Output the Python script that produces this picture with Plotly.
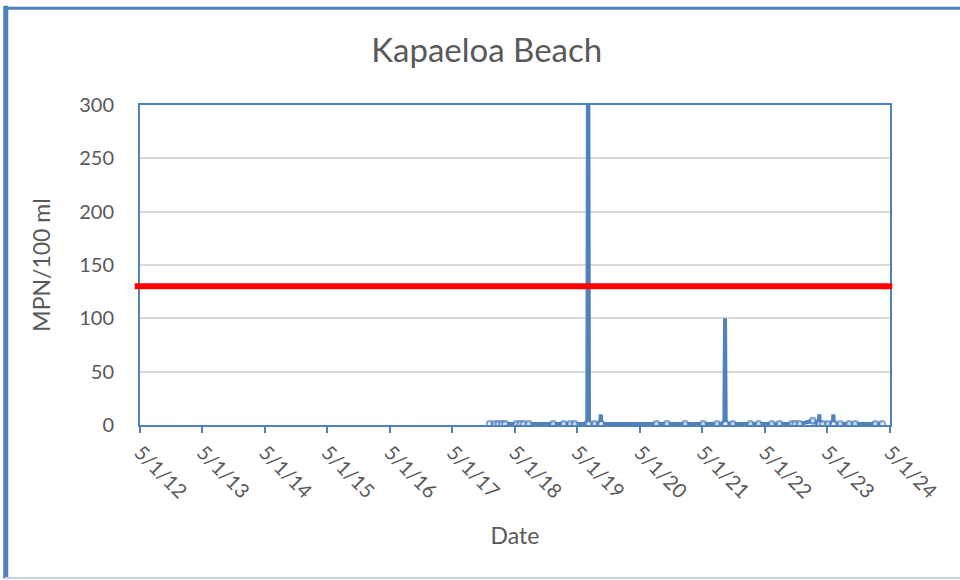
import plotly.graph_objects as go

title = "Kapaeloa Beach"
x_title = "Date"
y_title = "MPN/100 ml"

dates = [
    "2017-12-05", "2018-01-05", "2018-01-25", "2018-02-15", "2018-03-05",
    "2018-05-10", "2018-06-01", "2018-06-20", "2018-07-20",
    "2018-12-10", "2019-02-10", "2019-03-20", "2019-04-15",
    "2019-06-28", "2019-07-03", "2019-07-08", "2019-08-10",
    "2019-09-12", "2019-09-15", "2019-09-18",
    "2020-08-05", "2020-10-05", "2021-01-20",
    "2021-05-05", "2021-07-25", "2021-09-06", "2021-09-10", "2021-09-14", "2021-10-25",
    "2022-02-05", "2022-03-25", "2022-06-10", "2022-07-25",
    "2022-10-05", "2022-10-25", "2022-11-20",
    "2023-02-05", "2023-03-12", "2023-03-15", "2023-03-18", "2023-04-05", "2023-05-05",
    "2023-06-02", "2023-06-05", "2023-06-08", "2023-07-15", "2023-09-05", "2023-10-10",
    "2024-02-05", "2024-03-15",
]
values = [
    1, 1, 1, 1, 1,
    1, 1, 1, 1,
    1, 1, 1, 1,
    1, 410, 1, 1,
    1, 10, 1,
    1, 1, 1,
    1, 1, 1, 100, 1, 1,
    1, 1, 1, 1,
    1, 1, 1,
    4, 1, 10, 1, 1, 1,
    1, 10, 1, 1, 1, 1,
    1, 1,
]

threshold = 130
tick_dates = ["2012-05-01", "2013-05-01", "2014-05-01", "2015-05-01", "2016-05-01",
              "2017-05-01", "2018-05-01", "2019-05-01", "2020-05-01", "2021-05-01",
              "2022-05-01", "2023-05-01", "2024-05-01"]
tick_labels = ["5/1/12", "5/1/13", "5/1/14", "5/1/15", "5/1/16", "5/1/17", "5/1/18",
               "5/1/19", "5/1/20", "5/1/21", "5/1/22", "5/1/23", "5/1/24"]
y_ticks = [0, 50, 100, 150, 200, 250, 300]

blue = "#4F81BD"
txt = "#595959"
font = "Lato, 'Open Sans', sans-serif"

# only the low samples show circles; the peaks appear as plain rounded spikes
marker_sizes = [6 if v < 5 else 0 for v in values]

fig = go.Figure()
fig.add_trace(go.Scatter(
    x=dates, y=values, mode="lines+markers",
    line=dict(color=blue, width=4),
    marker=dict(symbol="circle", size=marker_sizes, color="white",
                line=dict(color=blue, width=2)),
    cliponaxis=True, showlegend=False, hoverinfo="x+y",
))

# threshold line (extends slightly beyond plot area)
fig.add_shape(type="line", xref="paper", yref="y", x0=-0.007, x1=1.003,
              y0=threshold, y1=threshold, line=dict(color="#FF0000", width=6))

# chart frame
fig.add_shape(type="line", xref="paper", yref="paper", x0=-0.179, x1=-0.179, y0=-0.48, y1=1.31,
              line=dict(color=blue, width=5))
fig.add_shape(type="line", xref="paper", yref="paper", x0=-0.18, x1=1.2, y0=1.302, y1=1.302,
              line=dict(color=blue, width=3))
fig.add_shape(type="line", xref="paper", yref="paper", x0=-0.18, x1=1.2, y0=-0.478, y1=-0.478,
              line=dict(color="#C5D5E6", width=2))

fig.update_layout(
    width=960, height=580,
    margin=dict(l=140, r=70, t=105, b=155),
    paper_bgcolor="white", plot_bgcolor="white",
    font=dict(family=font, color=txt, size=20),
    title=dict(text=title, x=0.507, xanchor="center", y=0.913, yanchor="middle",
               font=dict(family=font, size=33, color=txt)),
    xaxis=dict(
        type="date", range=["2012-05-01", "2024-05-01"],
        tickmode="array", tickvals=tick_dates, ticktext=tick_labels,
        tickangle=45, ticks="outside", ticklen=6, tickcolor=blue, tickwidth=2,
        showline=True, linecolor=blue, linewidth=2, mirror=True,
        showgrid=False, zeroline=False,
        title=dict(text=x_title, font=dict(size=23, color=txt), standoff=26),
        tickfont=dict(size=20, color=txt),
    ),
    yaxis=dict(
        range=[0, 300], tickmode="array", tickvals=y_ticks,
        showline=True, linecolor=blue, linewidth=2, mirror=True,
        showgrid=True, gridcolor="#D9D9D9", gridwidth=1.5, zeroline=False,
        ticks="", ticklabelstandoff=20,
        title=dict(text=y_title, font=dict(size=23, color=txt), standoff=22),
        tickfont=dict(size=20, color=txt),
    ),
)

fig.write_html("out.html", config={"displayModeBar": False},
               post_script="document.body.style.margin='0';")
